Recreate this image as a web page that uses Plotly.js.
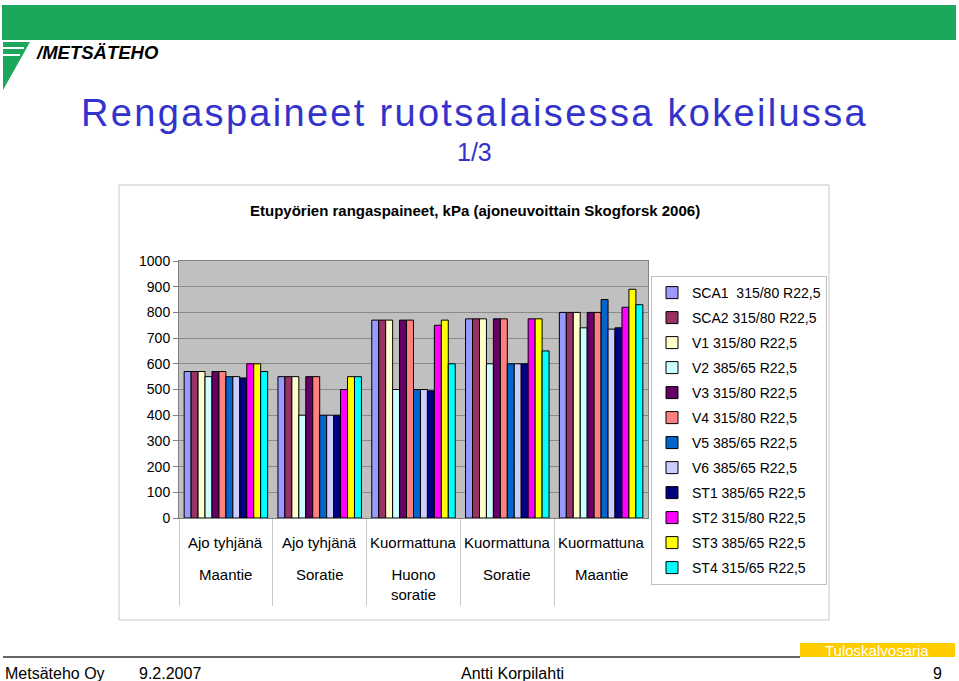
<!DOCTYPE html>
<html>
<head>
<meta charset="utf-8">
<script src="https://cdn.plot.ly/plotly-3.0.1.min.js"></script>
<style>
html,body{margin:0;padding:0;background:#fff;}
#chart{width:959px;height:681px;}
#chart .gtitle{letter-spacing:2.3px;}
</style>
</head>
<body>
<div id="chart"></div>
<script>
// ---- data ----
const categories = ['G1', 'G2', 'G3', 'G4', 'G5'];
const labelLine1 = ['Ajo tyhjänä', 'Ajo tyhjänä', 'Kuormattuna', 'Kuormattuna', 'Kuormattuna'];
const labelLine2 = ['Maantie', 'Soratie', 'Huono<br>soratie', 'Soratie', 'Maantie'];

const seriesNames = [
  'SCA1\u00A0\u00A0315/80 R22,5',
  'SCA2 315/80 R22,5',
  'V1 315/80 R22,5',
  'V2 385/65 R22,5',
  'V3 315/80 R22,5',
  'V4 315/80 R22,5',
  'V5 385/65 R22,5',
  'V6 385/65 R22,5',
  'ST1 385/65 R22,5',
  'ST2 315/80 R22,5',
  'ST3 385/65 R22,5',
  'ST4 315/65 R22,5'
];
const SCA1 = [570, 550, 770, 775, 800];
const SCA2 = [570, 550, 770, 775, 800];
const V1   = [570, 550, 770, 775, 800];
const V2   = [550, 400, 500, 600, 740];
const V3   = [570, 550, 770, 775, 800];
const V4   = [570, 550, 770, 775, 800];
const V5   = [550, 400, 500, 600, 850];
const V6   = [550, 400, 500, 600, 735];
const ST1  = [545, 400, 495, 600, 740];
const ST2  = [600, 500, 750, 775, 820];
const ST3  = [600, 550, 770, 775, 890];
const ST4  = [570, 550, 600, 650, 830];
const seriesValues = [SCA1, SCA2, V1, V2, V3, V4, V5, V6, ST1, ST2, ST3, ST4];
const seriesColors = ['#9999FF', '#993366', '#FFFFCC', '#CCFFFF', '#660066', '#FF8080',
                      '#0066CC', '#CCCCFF', '#000080', '#FF00FF', '#FFFF00', '#00FFFF'];
const yTicks = [0, 100, 200, 300, 400, 500, 600, 700, 800, 900, 1000];

// ---- helpers (pixel -> paper) ----
const W = 959, H = 681;
const px = x => x / W;
const py = y => 1 - y / H;
const FONT = 'Liberation Sans, Arial, sans-serif';
const NARROW = 'Liberation Sans Narrow, Arial Narrow, Liberation Sans, sans-serif';

const traces = seriesNames.map((name, i) => ({
  type: 'bar',
  name: name,
  x: categories,
  y: seriesValues[i],
  marker: {color: seriesColors[i], line: {color: '#000000', width: 1}},
  legendgroup: 'g' + i
}));

const annotations = [];
categories.forEach((c, i) => {
  annotations.push({xref: 'x', yref: 'paper', x: c, y: py(542), text: labelLine1[i],
    showarrow: false, xanchor: 'center', yanchor: 'middle', font: {family: FONT, size: 15, color: '#000'}});
  annotations.push({xref: 'x', yref: 'paper', x: c, y: py(564), text: labelLine2[i],
    showarrow: false, xanchor: 'center', yanchor: 'top', font: {family: FONT, size: 15, color: '#000'}});
});
annotations.push(
  {xref: 'paper', yref: 'paper', x: px(474.5), y: py(152), text: '1/3', showarrow: false,
   xanchor: 'center', yanchor: 'middle', font: {family: FONT, size: 25, color: '#3333CC'}},
  {xref: 'paper', yref: 'paper', x: px(475), y: py(211),
   text: '<b>Etupyörien rangaspaineet, kPa (ajoneuvoittain Skogforsk 2006)</b>', showarrow: false,
   xanchor: 'center', yanchor: 'middle', font: {family: FONT, size: 15, color: '#000'}},
  {xref: 'paper', yref: 'paper', x: px(34), y: py(53), text: '<b><i>/METSÄTEHO</i></b>', showarrow: false,
   xanchor: 'left', yanchor: 'middle', font: {family: NARROW, size: 18.5, color: '#000'}},
  {xref: 'paper', yref: 'paper', x: px(877), y: py(650), text: 'Tuloskalvosarja', showarrow: false,
   xanchor: 'center', yanchor: 'middle', font: {family: NARROW, size: 15, color: '#FFFFFF'}},
  {xref: 'paper', yref: 'paper', x: px(3), y: py(673), text: 'Metsäteho Oy', showarrow: false,
   xanchor: 'left', yanchor: 'middle', font: {family: NARROW, size: 16, color: '#000'}},
  {xref: 'paper', yref: 'paper', x: px(137), y: py(673), text: '9.2.2007', showarrow: false,
   xanchor: 'left', yanchor: 'middle', font: {family: NARROW, size: 16, color: '#000'}},
  {xref: 'paper', yref: 'paper', x: px(512), y: py(673), text: 'Antti Korpilahti', showarrow: false,
   xanchor: 'center', yanchor: 'middle', font: {family: NARROW, size: 16, color: '#000'}},
  {xref: 'paper', yref: 'paper', x: px(944), y: py(673), text: '9', showarrow: false,
   xanchor: 'right', yanchor: 'middle', font: {family: NARROW, size: 16, color: '#000'}}
);

const shapes = [
  // chart area border
  {type: 'rect', xref: 'paper', yref: 'paper', x0: px(119), x1: px(829), y0: py(620), y1: py(185),
   line: {color: '#C8C8C8', width: 1}, fillcolor: 'rgba(0,0,0,0)', layer: 'below'},
  // logo green band
  {type: 'rect', xref: 'paper', yref: 'paper', x0: px(2), x1: px(956), y0: py(40), y1: py(5),
   line: {width: 0}, fillcolor: '#1BA85C'},
  // logo triangle
  {type: 'path', xref: 'paper', yref: 'paper',
   path: `M ${px(3)} ${py(42)} L ${px(30)} ${py(42)} L ${px(3)} ${py(90)} Z`,
   line: {width: 0}, fillcolor: '#1BA85C'},
  {type: 'rect', xref: 'paper', yref: 'paper', x0: px(3), x1: px(24), y0: py(49), y1: py(47),
   line: {width: 0}, fillcolor: '#FFFFFF'},
  {type: 'rect', xref: 'paper', yref: 'paper', x0: px(3), x1: px(20), y0: py(56), y1: py(54),
   line: {width: 0}, fillcolor: '#FFFFFF'},
  // footer
  {type: 'line', xref: 'paper', yref: 'paper', x0: px(3), x1: px(800), y0: py(657), y1: py(657),
   line: {color: '#333333', width: 1.5}},
  {type: 'rect', xref: 'paper', yref: 'paper', x0: px(800), x1: px(955), y0: py(657), y1: py(643),
   line: {width: 0}, fillcolor: '#FFCC00'}
];

const layout = {
  width: W, height: H,
  margin: {l: 0, r: 0, t: 0, b: 0},
  paper_bgcolor: '#FFFFFF',
  plot_bgcolor: '#C0C0C0',
  font: {family: FONT, size: 14, color: '#000'},
  title: {text: 'Rengaspaineet ruotsalaisessa kokeilussa', x: px(474.5), xanchor: 'center',
          y: py(113), yanchor: 'middle', font: {family: FONT, size: 38, color: '#3333CC'}},
  barmode: 'group',
  bargap: 0.11,
  bargroupgap: 0,
  xaxis: {
    domain: [px(179), px(648)],
    type: 'category',
    showticklabels: false,
    ticks: 'outside', tickson: 'boundaries', ticklen: 87, tickcolor: '#C8C8C8', tickwidth: 1,
    showline: true, linecolor: '#808080', mirror: true, showgrid: false, zeroline: false
  },
  yaxis: {
    domain: [py(518), py(261)],
    range: [0, 1000],
    tickvals: yTicks,
    ticks: 'outside', ticklen: 5, tickcolor: '#808080',
    showgrid: true, gridcolor: '#8A8A8A', gridwidth: 1,
    showline: true, linecolor: '#808080', mirror: true, zeroline: false,
    tickfont: {family: FONT, size: 14, color: '#000'}
  },
  showlegend: true,
  legend: {
    x: px(651), xanchor: 'left', y: py(276), yanchor: 'top',
    bgcolor: '#FFFFFF', bordercolor: '#C0C0C0', borderwidth: 1,
    font: {family: FONT, size: 14, color: '#000'},
    tracegroupgap: 3.8, itemwidth: 30, traceorder: 'grouped'
  },
  annotations: annotations,
  shapes: shapes
};

Plotly.newPlot('chart', traces, layout, {staticPlot: true, displayModeBar: false});
</script>
</body>
</html>
